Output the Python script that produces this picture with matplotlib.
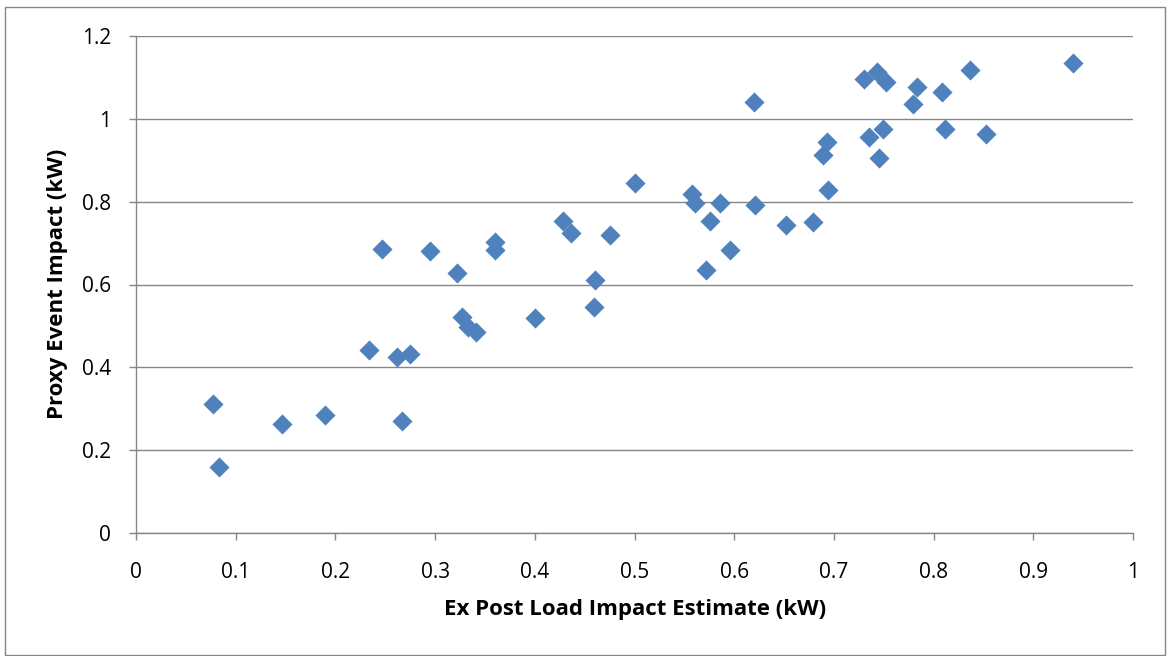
import matplotlib.pyplot as plt
from matplotlib.patches import Rectangle

# ex post estimate vs proxy impact, one point per event
ex_post = [0.077, 0.083, 0.146, 0.190, 0.234, 0.247, 0.262, 0.267, 0.275, 0.295,
           0.322, 0.327, 0.333, 0.341, 0.360, 0.360, 0.400, 0.428, 0.436, 0.459,
           0.460, 0.475, 0.500, 0.558, 0.561, 0.572, 0.576, 0.586, 0.596, 0.620,
           0.621, 0.652, 0.679, 0.689, 0.693, 0.694, 0.730, 0.735, 0.743, 0.745,
           0.749, 0.752, 0.779, 0.783, 0.808, 0.811, 0.837, 0.853, 0.940]
proxy = [0.312, 0.159, 0.263, 0.285, 0.442, 0.685, 0.426, 0.271, 0.431, 0.682,
         0.628, 0.521, 0.498, 0.485, 0.703, 0.683, 0.518, 0.754, 0.725, 0.545,
         0.611, 0.720, 0.846, 0.818, 0.797, 0.635, 0.754, 0.797, 0.683, 1.041,
         0.791, 0.744, 0.750, 0.913, 0.945, 0.828, 1.095, 0.955, 1.114, 0.905,
         0.975, 1.088, 1.037, 1.076, 1.064, 0.975, 1.118, 0.963, 1.134]

xticks = [0, 0.1, 0.2, 0.3, 0.4, 0.5, 0.6, 0.7, 0.8, 0.9, 1]
yticks = [0, 0.2, 0.4, 0.6, 0.8, 1, 1.2]

plt.rcParams['font.family'] = ['Open Sans', 'DejaVu Sans']

W, H = 1168, 656
fig = plt.figure(figsize=(W/100, H/100), dpi=100)
ax = fig.add_axes([136/W, 1-533/H, 997/W, 497/H])

grey = '#868686'
ax.scatter(ex_post, proxy, marker='D', s=105, color='#4F81BD', linewidths=0, zorder=3)

ax.set_xlim(0, 1)
ax.set_ylim(0, 1.2)
ax.set_xticks(xticks)
ax.set_yticks(yticks)
ax.set_xticklabels([f'{t:g}' for t in xticks])
ax.set_yticklabels([f'{t:g}' for t in yticks])
ax.tick_params(labelsize=15, labelcolor='black', color=grey, length=5, width=1, direction='out')
ax.tick_params(axis='x', pad=16)
ax.tick_params(axis='y', pad=13)

ax.grid(axis='y', color=grey, linewidth=1)
ax.set_axisbelow(True)
for side in ['top', 'right']:
    ax.spines[side].set_visible(False)
for side in ['left', 'bottom']:
    ax.spines[side].set_color(grey)
    ax.spines[side].set_linewidth(1)

# axis titles placed in figure pixels
fig.text(635/W, 1-615/H, 'Ex Post Load Impact Estimate (kW)', fontsize=16, fontweight='bold',
         ha='center', va='baseline')
fig.text(63/W, 1-284/H, 'Proxy Event Impact (kW)', fontsize=16, fontweight='bold',
         rotation=90, rotation_mode='anchor', ha='center', va='baseline')

# chart frame
fig.patches.append(Rectangle((5/W, 1/H), 1160/W, 648/H, transform=fig.transFigure,
                             fill=False, edgecolor=grey, linewidth=1))

fig.savefig('out.png', dpi=100)
